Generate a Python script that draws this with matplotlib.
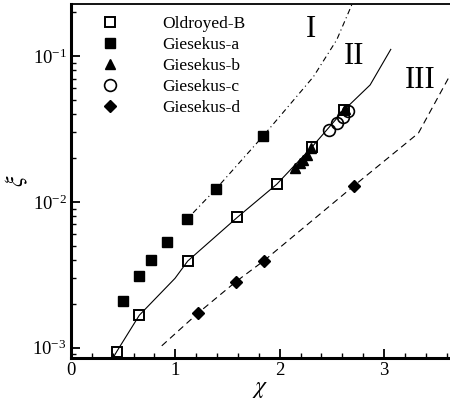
import numpy as np
import matplotlib
matplotlib.use("Agg")
import matplotlib.pyplot as plt
from matplotlib.ticker import LogLocator, MultipleLocator, LogFormatterSciNotation, NullFormatter

# Точки розрахунків для різних моделей
chi_oldroyd = [0.438, 0.655, 1.119, 1.594, 1.972, 2.308, 2.617]
xi_oldroyd = [9.4e-4, 1.67e-3, 3.93e-3, 7.83e-3, 1.32e-2, 2.37e-2, 4.26e-2]

chi_gies_a = [0.496, 0.655, 0.764, 0.918, 1.109, 1.387, 1.844]
xi_gies_a = [2.10e-3, 3.10e-3, 3.99e-3, 5.31e-3, 7.57e-3, 1.22e-2, 2.84e-2]

chi_gies_b = [2.147, 2.195, 2.227, 2.262, 2.300, 2.626]
xi_gies_b = [0.0170, 0.0184, 0.0194, 0.0208, 0.0234, 0.0434]

chi_gies_c = [2.473, 2.549, 2.607, 2.658]
xi_gies_c = [0.0313, 0.0347, 0.0382, 0.0418]

chi_gies_d = [1.215, 1.582, 1.850, 2.713]
xi_gies_d = [1.72e-3, 2.84e-3, 3.95e-3, 1.29e-2]

# Межі областей I, II, III
chi_curve1 = [1.17, 1.387, 1.844, 2.323, 2.547, 2.70]
xi_curve1 = [8.4e-3, 1.22e-2, 2.84e-2, 0.072, 0.129, 0.232]

chi_curve2 = [0.405, 0.438, 0.655, 0.997, 1.119, 1.594, 1.972, 2.308, 2.617, 2.867, 3.065]
xi_curve2 = [8.55e-4, 9.4e-4, 1.67e-3, 2.99e-3, 3.93e-3, 7.83e-3, 1.32e-2, 2.37e-2, 4.26e-2, 0.0633, 0.111]

chi_curve3 = [0.870, 1.215, 1.582, 1.850, 2.713, 3.33, 3.65]
xi_curve3 = [1.03e-3, 1.72e-3, 2.84e-3, 3.95e-3, 1.29e-2, 0.0296, 0.0777]

region_labels = ["I", "II", "III"]
region_chi = [2.301, 2.716, 3.346]
region_xi = [0.151, 0.0989, 0.0684]

plt.rcParams["font.family"] = "serif"
plt.rcParams["font.serif"] = ["Liberation Serif", "DejaVu Serif"]
plt.rcParams["mathtext.fontset"] = "stix"
plt.rcParams["axes.unicode_minus"] = False

fig = plt.figure(figsize=(4.5, 3.99), dpi=100)
ax = fig.add_axes([71 / 450, 1 - 357.7 / 399, 1 - 71 / 450, (357.7 - 4) / 399])

ax.plot(chi_curve1, xi_curve1, color="k", lw=0.8, dashes=(5, 3, 1, 3))
ax.plot(chi_curve2, xi_curve2, color="k", lw=0.8, ls="-")
ax.plot(chi_curve3, xi_curve3, color="k", lw=0.8, dashes=(6, 4))

ax.plot(chi_oldroyd, xi_oldroyd, ls="none", marker="s", ms=7.5, mfc="none", mec="k", mew=1.4, label="Oldroyed-B")
ax.plot(chi_gies_a, xi_gies_a, ls="none", marker="s", ms=7.5, mfc="k", mec="k", label="Giesekus-a")
ax.plot(chi_gies_b, xi_gies_b, ls="none", marker="^", ms=7.5, mfc="k", mec="k", label="Giesekus-b")
ax.plot(chi_gies_c, xi_gies_c, ls="none", marker="o", ms=8.5, mfc="none", mec="k", mew=1.2, label="Giesekus-c")
ax.plot(chi_gies_d, xi_gies_d, ls="none", marker="D", ms=6.5, mfc="k", mec="k", label="Giesekus-d")

for lab, cx, cy in zip(region_labels, region_chi, region_xi):
    ax.text(cx, cy, lab, fontsize=22, ha="center", va="center")

ax.set_yscale("log")
ax.set_xlim(0, 379 / 104.33)
ax.set_ylim(10 ** -3.0686, 10 ** -0.6435)

ax.xaxis.set_major_locator(MultipleLocator(1))
ax.xaxis.set_minor_locator(MultipleLocator(0.2))
ax.yaxis.set_major_locator(LogLocator(base=10))
ax.yaxis.set_minor_locator(LogLocator(base=10, subs=np.arange(2, 10)))
ax.yaxis.set_major_formatter(LogFormatterSciNotation())
ax.yaxis.set_minor_formatter(NullFormatter())

ax.tick_params(which="both", direction="in", top=False, right=False, labelsize=13.5, pad=3)
ax.tick_params(which="major", length=6.5, width=1.3)
ax.tick_params(which="minor", length=3.6, width=1.0)

ax.spines["left"].set_linewidth(2.2)
ax.spines["bottom"].set_linewidth(2.2)
ax.spines["top"].set_linewidth(1.3)
ax.spines["right"].set_visible(False)

ax.set_xlabel(r"$\chi$", fontsize=17, labelpad=0)
ax.set_ylabel(r"$\xi$", fontsize=17, labelpad=2)

ax.legend(loc="upper left", bbox_to_anchor=(22 / 379, 1 - 12 / 353.7), frameon=False,
          fontsize=12.5, numpoints=1, handlelength=2.0, handletextpad=2.0,
          labelspacing=0.28, borderpad=0, borderaxespad=0)

fig.savefig("out.png", dpi=100)
